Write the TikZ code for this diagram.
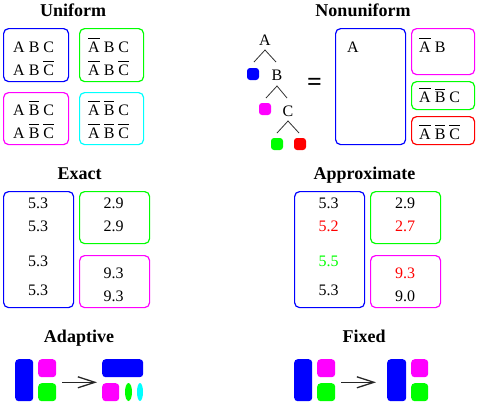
\documentclass[tikz,border=0pt]{standalone}
\usepackage{fontspec}
\setmainfont{Liberation Serif}
\usetikzlibrary{arrows.meta,shapes.geometric}
\definecolor{cblue}{RGB}{0,0,255}
\definecolor{cgreen}{RGB}{0,255,0}
\definecolor{cmag}{RGB}{255,0,255}
\definecolor{ccyan}{RGB}{0,255,255}
\definecolor{cred}{RGB}{255,0,0}
\newcommand\ovl[1]{{\setbox0\hbox{#1}\rlap{\raisebox{\dimexpr\ht0+3pt\relax}{\rule{\wd0}{0.7pt}}}\box0}}
\tikzset{
  frame/.style={draw, rounded corners=5pt, line width=1.2pt, inner sep=0pt, anchor=north west},
  txt/.style={anchor=base west, inner sep=0pt, font=\fontsize{16}{19}\selectfont},
  num/.style={anchor=base, inner sep=0pt, font=\fontsize{16}{19}\selectfont},
  ttl/.style={anchor=base, inner sep=0pt, font=\bfseries\fontsize{18}{21}\selectfont},
  blk/.style={fill, rounded corners=3.5pt, inner sep=0pt, anchor=north west, draw=none},
  dot/.style={fill, rounded corners=3pt, inner sep=0pt, minimum width=12pt, minimum height=12pt, draw=none},
  oval/.style={fill, ellipse, inner sep=0pt, draw=none},
  tree/.style={line width=0.8pt, black!80},
  conv/.style={line width=1.3pt, black!85, -{Straight Barb[length=17pt,width=11pt]}}
}
\begin{document}
\begin{tikzpicture}[x=1pt,y=-1pt]
\useasboundingbox (0,0) rectangle (479,405);
% ---------- Uniform ----------
\node[ttl] (tUni) at (73,16) {Uniform};
\node[frame, draw=cblue, minimum width=65pt, minimum height=53pt] (ub) at (3,28) {};
\node[frame, draw=cgreen, minimum width=64pt, minimum height=53pt] (ug) at (79,28) {};
\node[frame, draw=cmag, minimum width=65pt, minimum height=52pt] (um) at (3,92) {};
\node[frame, draw=ccyan, minimum width=64pt, minimum height=52pt] (uc) at (79,92) {};
\node[txt] (ub1) at (13,52.5) {A B C};
\node[txt] (ub2) at (13,75) {A B \ovl{C}};
\node[txt] (ug1) at (88,52.5) {\ovl{A} B C};
\node[txt] (ug2) at (88,75) {\ovl{A} B \ovl{C}};
\node[txt] (um1) at (13,115) {A \ovl{B} C};
\node[txt] (um2) at (13,138) {A \ovl{B} \ovl{C}};
\node[txt] (uc1) at (88,115) {\ovl{A} \ovl{B} C};
\node[txt] (uc2) at (88,138) {\ovl{A} \ovl{B} \ovl{C}};
% ---------- Nonuniform ----------
\node[ttl] (tNon) at (363,16) {Nonuniform};
\node[num] (tA) at (265,45) {A};
\node[num] (tB) at (277,80) {B};
\node[num] (tC) at (288,116) {C};
\node[dot, fill=cblue] (d1) at (253,74) {};
\node[dot, fill=cmag] (d2) at (265,109) {};
\node[dot, fill=cgreen] (d3) at (277,144) {};
\node[dot, fill=cred] (d4) at (300,144) {};
\coordinate (a0) at (265,50); \coordinate (a1) at (254,62); \coordinate (a2) at (276,62);
\coordinate (b0) at (277,86); \coordinate (b1) at (266,98); \coordinate (b2) at (287,98);
\coordinate (c0) at (288,121); \coordinate (c1) at (277,133); \coordinate (c2) at (299,133);
\draw[tree] (a1) -- (a0) -- (a2);
\draw[tree] (b1) -- (b0) -- (b2);
\draw[tree] (c1) -- (c0) -- (c2);
\node[inner sep=0pt, font=\bfseries\fontsize{26}{28}\selectfont] (eq) at (314.5,84.5) {=};
\node[frame, draw=cblue, minimum width=70pt, minimum height=116pt] (nb) at (335,28) {};
\node[frame, draw=cmag, minimum width=63pt, minimum height=46pt] (nm) at (411,28) {};
\node[frame, draw=cgreen, minimum width=63pt, minimum height=28pt] (ng) at (411,81) {};
\node[frame, draw=cred, minimum width=63pt, minimum height=28pt] (nr) at (411,116) {};
\node[txt] (nb1) at (347,52.5) {A};
\node[txt] (nm1) at (419,52.5) {\ovl{A} B};
\node[txt] (ng1) at (419,102.7) {\ovl{A} \ovl{B} C};
\node[txt] (nr1) at (419,139.3) {\ovl{A} \ovl{B} \ovl{C}};
% ---------- Exact ----------
\node[ttl] (tEx) at (79.5,179.3) {Exact};
\node[frame, draw=cblue, minimum width=70pt, minimum height=116pt] (eb) at (3,191) {};
\node[frame, draw=cgreen, minimum width=70pt, minimum height=52pt] (eg) at (79,191) {};
\node[frame, draw=cmag, minimum width=70pt, minimum height=52pt] (em) at (79,255) {};
\node[num] (eb1) at (38,208.3) {5.3};
\node[num] (eb2) at (38,231) {5.3};
\node[num] (eb3) at (38,266.7) {5.3};
\node[num] (eb4) at (38,295) {5.3};
\node[num] (eg1) at (113.5,208.3) {2.9};
\node[num] (eg2) at (113.5,231) {2.9};
\node[num] (em1) at (113.5,278.3) {9.3};
\node[num] (em2) at (113.5,301) {9.3};
% ---------- Approximate ----------
\node[ttl] (tAp) at (364.5,179.3) {Approximate};
\node[frame, draw=cblue, minimum width=70pt, minimum height=116pt] (ab) at (294,191) {};
\node[frame, draw=cgreen, minimum width=70pt, minimum height=52pt] (ag) at (370,191) {};
\node[frame, draw=cmag, minimum width=70pt, minimum height=52pt] (am) at (370,255) {};
\node[num] (ab1) at (328.5,208.3) {5.3};
\node[num, text=cred] (ab2) at (328.5,231) {5.2};
\node[num, text=cgreen] (ab3) at (328.5,266.7) {5.5};
\node[num] (ab4) at (328.5,295) {5.3};
\node[num] (ag1) at (405,208.3) {2.9};
\node[num, text=cred] (ag2) at (405,231) {2.7};
\node[num, text=cred] (am1) at (405,278.3) {9.3};
\node[num] (am2) at (405,301) {9.0};
% ---------- Adaptive ----------
\node[ttl] (tAd) at (79,342) {Adaptive};
\node[blk, fill=cblue, minimum width=18pt, minimum height=42pt] (p1) at (15,359) {};
\node[blk, fill=cmag, minimum width=18pt, minimum height=18pt] (p2) at (38,359) {};
\node[blk, fill=cgreen, minimum width=18pt, minimum height=18pt] (p3) at (38,383) {};
\coordinate (pa) at (62,382.3);
\coordinate (pb) at (97,382.3);
\draw[conv] (pa) -- (pb);
\node[blk, fill=cblue, minimum width=41pt, minimum height=18pt] (q1) at (102,359) {};
\node[blk, fill=cmag, minimum width=17pt, minimum height=18pt] (q2) at (102,383) {};
\node[oval, fill=cgreen, minimum width=7pt, minimum height=18pt] (q3) at (128.5,392) {};
\node[oval, fill=ccyan, minimum width=6pt, minimum height=18pt] (q4) at (140,392) {};
% ---------- Fixed ----------
\node[ttl] (tFx) at (364,342) {Fixed};
\node[blk, fill=cblue, minimum width=18pt, minimum height=42pt] (f1) at (294,359) {};
\node[blk, fill=cmag, minimum width=18pt, minimum height=18pt] (f2) at (317,359) {};
\node[blk, fill=cgreen, minimum width=18pt, minimum height=18pt] (f3) at (317,383) {};
\coordinate (fa) at (341,382.3);
\coordinate (fb) at (376,382.3);
\draw[conv] (fa) -- (fb);
\node[blk, fill=cblue, minimum width=19pt, minimum height=42pt] (g1) at (387,359) {};
\node[blk, fill=cmag, minimum width=17pt, minimum height=18pt] (g2) at (411,359) {};
\node[blk, fill=cgreen, minimum width=17pt, minimum height=18pt] (g3) at (411,383) {};
\end{tikzpicture}
\end{document}
